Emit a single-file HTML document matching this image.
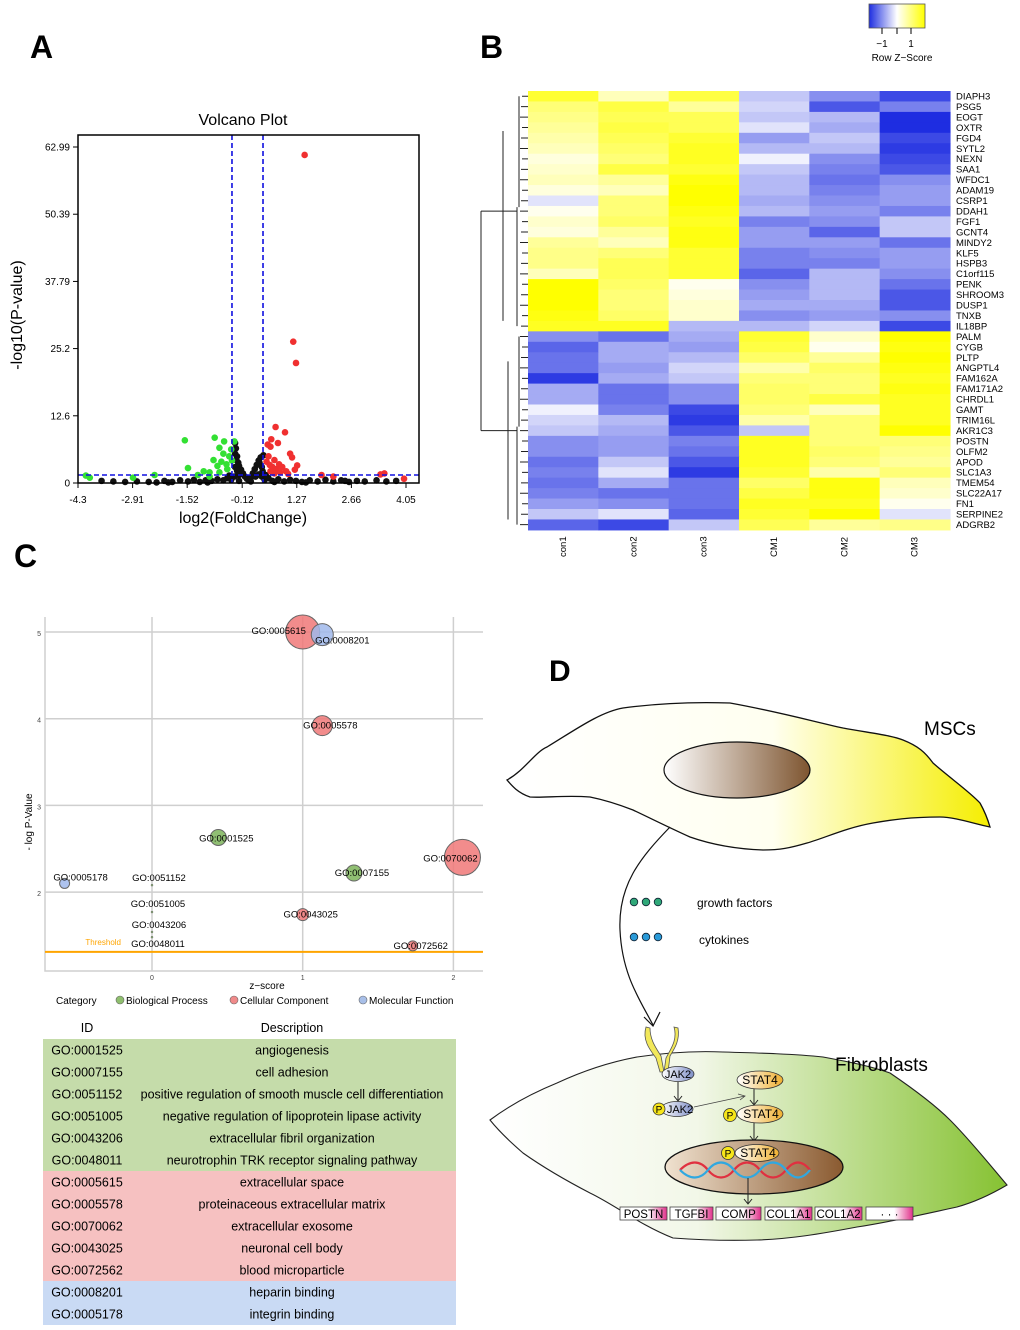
<!DOCTYPE html>
<html><head><meta charset="utf-8"><style>
html,body{margin:0;padding:0;background:#fff;}
svg{display:block;font-family:"Liberation Sans",Arial,sans-serif;}
</style></head><body>
<svg id="fig" width="1020" height="1330" viewBox="0 0 1020 1330" xmlns="http://www.w3.org/2000/svg">
<defs>
<linearGradient id="cbar" x1="0" x2="1"><stop offset="0" stop-color="#1e2ee0"/><stop offset="0.5" stop-color="#ffffff"/><stop offset="1" stop-color="#ffff00"/></linearGradient>
<linearGradient id="mscG" x1="0" x2="1"><stop offset="0" stop-color="#fff"/><stop offset="0.55" stop-color="#fffff0"/><stop offset="1" stop-color="#f5ee00"/></linearGradient>
<linearGradient id="nucG" x1="0" x2="1"><stop offset="0" stop-color="#fff"/><stop offset="1" stop-color="#7e5530"/></linearGradient>
<linearGradient id="fibG" x1="0" x2="1"><stop offset="0" stop-color="#fff"/><stop offset="0.4" stop-color="#f2f7e8"/><stop offset="1" stop-color="#86c232"/></linearGradient>
<linearGradient id="nuc2G" x1="0" x2="1"><stop offset="0" stop-color="#f0e2d0"/><stop offset="1" stop-color="#8a5a30"/></linearGradient>
<linearGradient id="jakG" x1="0" x2="1"><stop offset="0" stop-color="#fff"/><stop offset="1" stop-color="#8090c8"/></linearGradient>
<linearGradient id="statG" x1="0" x2="1"><stop offset="0" stop-color="#fff"/><stop offset="1" stop-color="#f0b030"/></linearGradient>
<linearGradient id="geneG" x1="0" x2="1"><stop offset="0" stop-color="#fff"/><stop offset="0.6" stop-color="#fff"/><stop offset="1" stop-color="#e0308a"/></linearGradient>
</defs>

<text x="30" y="58" font-size="32" font-weight="bold">A</text>
<text x="480" y="58" font-size="32" font-weight="bold">B</text>
<text x="14" y="567" font-size="32" font-weight="bold">C</text>
<text x="549" y="681" font-size="30" font-weight="bold">D</text>

<g id="volcano">
<text x="243" y="125" font-size="16" text-anchor="middle">Volcano Plot</text>
<text x="243" y="523" font-size="16" text-anchor="middle">log2(FoldChange)</text>
<text transform="translate(22,315) rotate(-90)" font-size="16" text-anchor="middle">-log10(P-value)</text>
<g id="vAxes"></g><g id="vPts"></g>
<rect x="78" y="135" width="341" height="348" fill="none" stroke="#000" stroke-width="1.5"/>
</g>

<g id="heatmap">
<rect x="869" y="4" width="56" height="24" fill="url(#cbar)" stroke="#555" stroke-width="0.8"/>
<path d="M882 28v6M897 28v6M911 28v6" stroke="#000"/>
<text x="882" y="47" font-size="10" text-anchor="middle">−1</text>
<text x="911" y="47" font-size="10" text-anchor="middle">1</text>
<text x="902" y="61" font-size="10" text-anchor="middle">Row Z−Score</text>
<g id="hCells"></g><g id="hDendro"></g><g id="hLabels"></g>
</g>

<g id="bubble">
<g id="bGrid"></g><g id="bPts"></g>
<text x="267" y="989" font-size="10" text-anchor="middle">z−score</text>
<text transform="translate(32,822) rotate(-90)" font-size="10" text-anchor="middle">- log P-Value</text>
<text x="56" y="1004" font-size="10">Category</text>
<circle cx="120" cy="1000" r="4" fill="#8fbf6e" stroke="#666" stroke-width="0.6"/>
<text x="126" y="1004" font-size="10">Biological Process</text>
<circle cx="234" cy="1000" r="4" fill="#f08a8a" stroke="#666" stroke-width="0.6"/>
<text x="240" y="1004" font-size="10">Cellular Component</text>
<circle cx="363" cy="1000" r="4" fill="#a8bfe8" stroke="#666" stroke-width="0.6"/>
<text x="369" y="1004" font-size="10">Molecular Function</text>
</g>

<g id="table">
<text x="87" y="1032" font-size="12.5" text-anchor="middle">ID</text>
<text x="292" y="1032" font-size="12.5" text-anchor="middle">Description</text>
<g id="tRows"></g>
</g>

<g id="diagram">
<path d="M507 780 C525 770 535 752 547 747 C575 730 600 712 623 708 C660 703 700 702 730 703 C780 712 815 722 843 728 C870 733 890 735 903 740 C918 746 925 752 933 763 C950 778 970 792 980 803 C985 812 988 820 990 827 C975 824 955 817 940 817 C910 817 890 820 873 823 C845 828 825 838 807 843 C790 848 780 850 763 850 C735 849 710 844 690 837 C670 828 650 818 633 810 C615 803 600 799 590 797 C565 795 545 798 530 797 C518 793 512 786 507 780 Z" fill="url(#mscG)" stroke="#111" stroke-width="1.3"/>
<ellipse cx="737" cy="770" rx="73" ry="28" fill="url(#nucG)" stroke="#111" stroke-width="1.2"/>
<text x="924" y="735" font-size="19">MSCs</text>
<path d="M670 827 C640 858 618 885 620 930 C622 975 640 1000 653 1025" fill="none" stroke="#111" stroke-width="1.2"/>
<path d="M644 1017 L653 1026 L660 1012" fill="none" stroke="#111" stroke-width="1.2"/>
<g>
<circle cx="634" cy="902" r="3.8" fill="#2fa878" stroke="#123" stroke-width="0.8"/><circle cx="646" cy="902" r="3.8" fill="#2fa878" stroke="#123" stroke-width="0.8"/><circle cx="658" cy="902" r="3.8" fill="#2fa878" stroke="#123" stroke-width="0.8"/></g>
<g>
<circle cx="634" cy="937" r="3.8" fill="#2a9ad8" stroke="#123" stroke-width="0.8"/><circle cx="646" cy="937" r="3.8" fill="#2a9ad8" stroke="#123" stroke-width="0.8"/><circle cx="658" cy="937" r="3.8" fill="#2a9ad8" stroke="#123" stroke-width="0.8"/></g>
<text x="697" y="907" font-size="12">growth factors</text>
<text x="699" y="944" font-size="12">cytokines</text>

<path d="M490 1120 C510 1105 535 1092 557 1083 C585 1070 610 1062 637 1057 C670 1052 700 1051 723 1052 C760 1053 795 1054 823 1057 C850 1062 870 1066 890 1073 C915 1090 935 1105 950 1120 C970 1140 990 1165 1007 1185 C990 1195 975 1202 957 1207 C920 1215 890 1222 857 1227 C820 1234 790 1239 757 1240 C725 1241 700 1240 673 1238 C640 1225 615 1205 590 1193 C565 1180 540 1165 523 1153 C508 1140 498 1130 490 1120 Z" fill="url(#fibG)" stroke="#222" stroke-width="1.1"/>
<text x="835" y="1071" font-size="19">Fibroblasts</text>
<path d="M646 1027 C642 1040 650 1050 656 1058 L660 1072 L664 1072 L661 1056 C656 1048 650 1040 650 1028 Z" fill="#f2e85a" stroke="#555" stroke-width="0.8"/>
<path d="M674 1027 C678 1040 670 1050 666 1058 L664 1072 L668 1072 L670 1056 C675 1048 680 1040 678 1028 Z" fill="#f2e85a" stroke="#555" stroke-width="0.8"/>
<ellipse cx="678" cy="1074" rx="16" ry="7.5" fill="url(#jakG)" stroke="#333" stroke-width="0.8"/>
<text x="678" y="1078" font-size="11" text-anchor="middle">JAK2</text>
<path d="M678 1082 V1100 M674 1096 L678 1101 L682 1096" fill="none" stroke="#222" stroke-width="1"/>
<ellipse cx="677" cy="1109" rx="16" ry="7.5" fill="url(#jakG)" stroke="#333" stroke-width="0.8"/>
<circle cx="659" cy="1109" r="6" fill="#f6e51a" stroke="#333" stroke-width="0.8"/>
<text x="659" y="1113" font-size="10" text-anchor="middle">P</text>
<text x="680" y="1113" font-size="11" text-anchor="middle">JAK2</text>
<path d="M694 1107 L745 1096 M738 1094 L745 1096 L740 1100" fill="none" stroke="#444" stroke-width="0.8"/>
<ellipse cx="760" cy="1080" rx="23" ry="9" fill="url(#statG)" stroke="#333" stroke-width="0.8"/>
<text x="760" y="1084" font-size="12" text-anchor="middle">STAT4</text>
<path d="M754 1089 V1104 M750 1100 L754 1105 L758 1100" fill="none" stroke="#222" stroke-width="1"/>
<ellipse cx="760" cy="1114" rx="23" ry="9" fill="url(#statG)" stroke="#333" stroke-width="0.8"/>
<circle cx="730" cy="1115" r="6.5" fill="#f6e51a" stroke="#333" stroke-width="0.8"/>
<text x="730" y="1119" font-size="10" text-anchor="middle">P</text>
<text x="761" y="1118" font-size="12" text-anchor="middle">STAT4</text>
<path d="M754 1123 V1140 M750 1136 L754 1141 L758 1136" fill="none" stroke="#222" stroke-width="1"/>
<ellipse cx="754" cy="1167" rx="89" ry="27" fill="url(#nuc2G)" stroke="#111" stroke-width="1.3"/>
<ellipse cx="757" cy="1153" rx="22" ry="8.5" fill="url(#statG)" stroke="#333" stroke-width="0.8"/>
<circle cx="728" cy="1153" r="6.5" fill="#f6e51a" stroke="#333" stroke-width="0.8"/>
<text x="728" y="1157" font-size="10" text-anchor="middle">P</text>
<text x="758" y="1157" font-size="12" text-anchor="middle">STAT4</text>
<path d="M680 1170 C690 1160 700 1160 708 1170 C716 1180 726 1180 734 1170 C742 1160 752 1160 760 1170 C768 1180 778 1180 786 1170 C794 1160 802 1160 810 1170" fill="none" stroke="#e03040" stroke-width="2.2"/>
<path d="M680 1170 C690 1180 700 1180 708 1170 C716 1160 726 1160 734 1170 C742 1180 752 1180 760 1170 C768 1160 778 1160 786 1170 C794 1180 802 1180 810 1170" fill="none" stroke="#30a8e0" stroke-width="2.2"/>
<path d="M748 1178 V1203 M744 1199 L748 1204 L752 1199" fill="none" stroke="#222" stroke-width="1"/>
<g id="genes"></g>
</g>
</svg>
<script>
const NS="http://www.w3.org/2000/svg";
function mk(tag,attrs,parent,txt){const e=document.createElementNS(NS,tag);for(const k in attrs)e.setAttribute(k,attrs[k]);if(txt!==undefined)e.textContent=txt;parent.appendChild(e);return e;}

// ===== Volcano data =====
const vTicksX=[-4.3,-2.91,-1.52,-0.12,1.27,2.66,4.05];
const vTicksY=[0,12.6,25.2,37.79,50.39,62.99];
const vRed=[[1.47,61.5],[1.18,26.5],[1.25,22.5],[0.73,10.5],[0.97,9.5],[0.62,8.2],[0.79,7.5],[0.53,7.2],[0.6,6.8],[1.1,5.5],[1.15,4.8],[0.55,5],[0.7,4.3],[0.82,3.5],[1.28,3.3],[0.9,3],[1.22,2.5],[0.65,3],[0.75,2.6],[1.0,2.2],[0.6,2.2],[0.85,2],[1.9,1.5],[2.2,1.2],[3.5,1.8],[3.4,1.6],[4.0,0.8],[0.7,1.8],[1.05,1.7],[0.5,4.0],[0.58,3.4]];
const vGreen=[[-1.58,8],[-0.82,8.5],[-0.58,7.8],[-0.32,7.8],[-0.4,6.3],[-0.7,6.6],[-0.6,5.5],[-0.45,5.0],[-0.85,4.3],[-0.65,4.0],[-0.52,3.5],[-0.38,4.2],[-1.5,2.8],[-1.1,2.2],[-0.95,2.0],[-0.7,2.0],[-1.25,1.5],[-2.35,1.5],[-4.1,1.4],[-4.0,1.0],[-2.9,1.0],[-0.95,1.2],[-0.5,2.6],[-0.75,3.2]];
const vBlack=[[-0.3,7.5],[-0.28,6.5],[-0.3,5.5],[-0.25,5],[-0.27,4.3],[-0.22,3.8],[-0.2,3.2],[-0.15,2.5],[-0.1,1.8],[-0.05,1.2],[-0.3,3],[-0.25,2.3],[-0.2,1.5],[-0.32,1.2],[0.0,0.8],[0.05,0.5],[0.1,1.0],[0.15,1.8],[0.2,2.6],[0.25,3.4],[0.3,4.2],[0.35,4.8],[0.32,3.8],[0.38,3.0],[0.4,2.2],[0.3,1.6],[0.38,1.2],[0.42,5.2],[0.22,1.2],[-3.7,0.4],[-3.4,0.3],[-3.1,0.2],[-2.8,0.3],[-2.5,0.2],[-2.3,0.1],[-2.1,0.4],[-1.9,0.2],[-1.7,0.5],[-1.5,0.3],[-1.35,0.6],[-1.2,0.2],[-1.05,0.5],[-0.9,0.4],[-0.75,0.7],[-0.6,0.5],[-0.5,0.9],[-0.4,0.6],[-0.2,0.4],[0.1,0.3],[0.45,0.6],[0.55,0.9],[0.65,0.4],[0.8,0.7],[0.95,0.3],[1.1,0.6],[1.25,0.4],[1.4,0.2],[1.6,0.5],[1.8,0.3],[2.0,0.6],[2.2,0.3],[2.4,0.5],[2.6,0.2],[2.8,0.4],[3.0,0.3],[3.3,0.5],[3.55,0.3],[3.8,0.4],[-2.0,0.1],[-1.0,0.1],[0.7,0.2],[1.5,0.1],[2.5,0.4],[-0.45,1.4],[0.48,1.5]];
const vThreshX=[-0.38,0.41];
const vThreshY=[1.5];
const vx=v=>78+(v+4.3)*39.28;
const vy=v=>483-v*5.334;
(function(){
 const ax=document.getElementById('vAxes');
 vTicksX.forEach(t=>{const l=mk('line',{x1:vx(t),x2:vx(t),y1:483,y2:488,stroke:'#000'},ax);
  
  const tx=mk('text',{x:vx(t),y:503,'font-size':10,'text-anchor':'middle'},ax,String(t));
  });
 vTicksY.forEach(t=>{const l=mk('line',{x1:73,x2:78,y1:vy(t),y2:vy(t),stroke:'#000'},ax);
  
  const tx=mk('text',{x:70,y:vy(t)+3.5,'font-size':10,'text-anchor':'end'},ax,String(t));
  });
 const p=document.getElementById('vPts');
 vBlack.forEach(d=>{const c=mk('circle',{cx:vx(d[0]),cy:vy(d[1]),r:3.3,fill:'#111'},p);
  });
 vGreen.forEach(d=>{const c=mk('circle',{cx:vx(d[0]),cy:vy(d[1]),r:3.3,fill:'#33e033'},p);
  });
 vRed.forEach(d=>{const c=mk('circle',{cx:vx(d[0]),cy:vy(d[1]),r:3.3,fill:'#f03030'},p);
  });
 vThreshX.forEach(t=>{const l=mk('line',{x1:vx(t),x2:vx(t),y1:135,y2:483,stroke:'#1010e0','stroke-width':1.6,'stroke-dasharray':'5,3'},p);
  });
 vThreshY.forEach(t=>{const l=mk('line',{x1:78,x2:419,y1:vy(t),y2:vy(t),stroke:'#1010e0','stroke-width':1.6,'stroke-dasharray':'5,3'},p);
  });
})();

// ===== Heatmap data =====
const hSamples=["con1","con2","con3","CM1","CM2","CM3"];
const hGenes=["DIAPH3","PSG5","EOGT","OXTR","FGD4","SYTL2","NEXN","SAA1","WFDC1","ADAM19","CSRP1","DDAH1","FGF1","GCNT4","MINDY2","KLF5","HSPB3","C1orf115","PENK","SHROOM3","DUSP1","TNXB","IL18BP","PALM","CYGB","PLTP","ANGPTL4","FAM162A","FAM171A2","CHRDL1","GAMT","TRIM16L","AKR1C3","POSTN","OLFM2","APOD","SLC1A3","TMEM54","SLC22A17","FN1","SERPINE2","ADGRB2"];
const hValues=[
[1.2,0.4,1.1,-0.4,-0.8,-1.3],[0.8,1.1,0.6,-0.3,-1.2,-0.9],[0.7,1.0,1.0,-0.4,-0.5,-1.5],[0.6,1.1,1.0,-0.2,-0.6,-1.5],
[0.5,1.0,1.2,-0.7,-0.4,-1.3],[0.4,0.9,1.3,-0.5,-0.5,-1.4],[0.2,0.8,1.3,-0.1,-0.8,-1.3],[0.3,1.1,1.2,-0.4,-0.9,-1.2],
[0.4,0.6,1.4,-0.5,-1.0,-0.8],[0.2,0.4,1.5,-0.5,-0.9,-0.7],[-0.2,0.8,1.5,-0.6,-0.8,-0.7],[0.1,0.8,1.4,-0.5,-0.7,-0.9],
[0.3,0.9,1.3,-0.9,-0.8,-0.4],[0.2,0.6,1.4,-0.7,-1.1,-0.4],[0.6,0.4,1.4,-0.7,-0.7,-1.0],[0.7,0.8,1.2,-0.9,-0.8,-0.7],
[0.7,1.0,1.2,-0.9,-0.9,-0.7],[0.4,1.0,1.2,-1.1,-0.5,-0.8],[1.5,0.9,0.1,-0.8,-0.5,-1.0],[1.5,0.8,0.2,-0.7,-0.5,-1.2],
[1.5,0.8,0.3,-0.6,-0.6,-1.2],[1.4,0.9,0.3,-0.8,-0.7,-0.8],[1.3,1.3,-0.5,-0.5,-0.3,-1.3],
[-0.8,-1.0,-0.6,1.2,0.3,1.5],[-1.1,-0.6,-0.7,1.1,0.1,1.4],[-1.0,-0.6,-0.5,0.9,0.6,1.5],[-1.0,-0.7,-0.3,0.5,0.9,1.4],
[-1.4,-0.6,-0.4,0.8,0.8,1.3],[-0.6,-1.0,-0.8,0.9,0.8,1.4],[-0.6,-1.0,-0.8,0.9,1.1,1.3],[-0.1,-0.9,-1.3,0.8,0.4,1.3],
[-0.3,-0.5,-1.4,0.5,0.8,1.3],[-0.4,-0.6,-1.2,-0.4,0.8,1.6],[-0.8,-0.7,-0.9,1.3,0.8,0.8],[-0.8,-0.7,-1.0,1.3,0.9,0.7],
[-1.0,-0.4,-1.2,1.3,0.8,0.6],[-0.9,-0.2,-1.4,1.2,0.5,0.8],[-1.0,-0.6,-1.0,0.9,1.4,0.4],[-0.9,-1.0,-1.0,1.1,1.4,0.3],
[-0.7,-0.8,-1.0,1.3,1.3,0.1],[-0.4,-0.2,-1.1,1.2,1.5,-0.2],[-1.1,-1.3,-0.4,1.0,0.6,0.7]];
const hClusterSizes=[23,19];
const hx=i=>528+i*70.33;
const hy=i=>91+i*10.45;
function zcol(v){v=Math.max(-1.5,Math.min(1.5,v))/1.5;
 if(v<0){const t=-v;return `rgb(${Math.round(255-t*225)},${Math.round(255-t*210)},${Math.round(255-t*30)})`;}
 return `rgb(255,255,${Math.round(255-v*255)})`;}
(function(){
 const g=document.getElementById('hCells');
 hValues.forEach((row,r)=>row.forEach((v,c)=>{const e=mk('rect',{x:hx(c),y:hy(r),width:70.9,height:11,fill:zcol(v)},g);
  }));
 const L=document.getElementById('hLabels');
 hGenes.forEach((n,r)=>{const t=mk('text',{x:956,y:hy(r)+8.5,'font-size':9.5},L,n);
  });
 hSamples.forEach((n,c)=>{const t=mk('text',{transform:`translate(${hx(c)+38},557) rotate(-90)`,'font-size':9.5},L,n);
  });
 const D=document.getElementById('hDendro');let d='';let start=0;const mids=[];
 hClusterSizes.forEach(sz=>{const ys=[];for(let r=start;r<start+sz;r++){const y=hy(r)+5.2;ys.push(y);d+=`M528 ${y}H${522-(r%3)}`;}
  const a=ys[0],b=ys[ys.length-1];
  d+=`M${519} ${a}V${(a+b)/2-4}M517 ${(a+b)/2-4}V${b}`;
  mids.push((a+b)/2);start+=sz;});
 d+=`M503 ${hy(0)+40}V${hy(22)}M503 ${mids[0]}H517`;
 d+=`M508 ${hy(23)+30}V${hy(41)}M508 ${mids[1]}H517`;
 d+=`M481 ${mids[0]}V${mids[1]}M481 ${mids[0]}H503M481 ${mids[1]}H508`;
 const p=mk('path',{d:d,fill:'none',stroke:'#222','stroke-width':1},D);
 
})();

// ===== Bubble chart data =====
const bIds=["GO:0005615","GO:0008201","GO:0005578","GO:0001525","GO:0070062","GO:0007155","GO:0005178","GO:0051152","GO:0051005","GO:0043206","GO:0048011","GO:0043025","GO:0072562"];
const bZ=[1.0,1.13,1.13,0.44,2.06,1.34,-0.58,0,0,0,0,1.0,1.73];
const bLogP=[5.0,4.97,3.92,2.63,2.4,2.22,2.1,2.08,1.77,1.54,1.48,1.74,1.38];
const bSize=[17,11,10,8,18,8,5,1,1,1,1,6,5];
const bCat=["CC","MF","CC","BP","CC","BP","MF","BP","BP","BP","BP","CC","CC"];
const bTicksX=[0,1,2];
const bTicksY=[2,3,4,5];
const bThreshold=[1.31];
const bLabelDx=[-24,20,8,8,-12,8,16,7,6,7,6,8,8];
const bLabelDy=[2,9,3,4,4,3,-3,-4,-5,-4,10,3,3];
const catFill={BP:'rgba(125,180,90,0.85)',CC:'rgba(240,120,120,0.85)',MF:'rgba(160,185,235,0.85)'};
const bx=v=>152+v*150.7;
const by=v=>632+(5-v)*86.7;
(function(){
 const G=document.getElementById('bGrid');
 bTicksX.forEach(t=>{const l=mk('line',{x1:bx(t),x2:bx(t),y1:617,y2:971,stroke:'#cfcfcf','stroke-width':1.5},G);
  
  const tx=mk('text',{x:bx(t),y:980,'font-size':7,'text-anchor':'middle',fill:'#444'},G,String(t));
  });
 bTicksY.forEach(t=>{const l=mk('line',{x1:45,x2:483,y1:by(t),y2:by(t),stroke:'#cfcfcf','stroke-width':1.5},G);
  
  const tx=mk('text',{x:41,y:by(t)+4,'font-size':7,'text-anchor':'end',fill:'#444'},G,String(t));
  });
 const ax=mk('path',{d:'M45 617V971H483',fill:'none',stroke:'#cfcfcf','stroke-width':1.5},G);
 
 bThreshold.forEach(t=>{const l=mk('line',{x1:45,x2:483,y1:by(t),y2:by(t),stroke:'#ffa500','stroke-width':2},G);
  
  const tx=mk('text',{x:121,y:by(t)-7,'font-size':8,'text-anchor':'end',fill:'#ffa500'},G,'Threshold');
  });
 const P=document.getElementById('bPts');
 bIds.forEach((id,i)=>{const c=mk('circle',{cx:bx(bZ[i]),cy:by(bLogP[i]),r:bSize[i],fill:catFill[bCat[i]],stroke:'#666','stroke-width':bSize[i]>1?1:0.5},P);
  });
 bIds.forEach((id,i)=>{const t=mk('text',{x:bx(bZ[i])+bLabelDx[i],y:by(bLogP[i])+bLabelDy[i],'font-size':9.5,'text-anchor':'middle'},P,id);
  });
})();

// ===== Table =====
const tIds=["GO:0001525","GO:0007155","GO:0051152","GO:0051005","GO:0043206","GO:0048011","GO:0005615","GO:0005578","GO:0070062","GO:0043025","GO:0072562","GO:0008201","GO:0005178"];
const tDesc=["angiogenesis","cell adhesion","positive regulation of smooth muscle cell differentiation","negative regulation of lipoprotein lipase activity","extracellular fibril organization","neurotrophin TRK receptor signaling pathway","extracellular space","proteinaceous extracellular matrix","extracellular exosome","neuronal cell body","blood microparticle","heparin binding","integrin binding"];
const tCat=["BP","BP","BP","BP","BP","BP","CC","CC","CC","CC","CC","MF","MF"];
const tFill={BP:'#c5dcaa',CC:'#f6c1c1',MF:'#c9daf4'};
(function(){
 const T=document.getElementById('tRows');
 tIds.forEach((id,i)=>{const y=1039+i*22;
  const r=mk('rect',{x:43,y:y,width:413,height:22,fill:tFill[tCat[i]]},T);
  
  const a=mk('text',{x:87,y:y+15.5,'font-size':12.5,'text-anchor':'middle'},T,id);
  
  const b=mk('text',{x:292,y:y+15.5,'font-size':12.5,'text-anchor':'middle'},T,tDesc[i]);
  });
})();

// ===== Genes in diagram =====
const gNames=["POSTN","TGFBI","COMP","COL1A1","COL1A2","· · ·"];
const gX=[620,670,716,765,815,866];
const gW=[47,43,45,47,47,47];
(function(){
 const G=document.getElementById('genes');
 gNames.forEach((n,i)=>{const r=mk('rect',{x:gX[i],y:1207,width:gW[i],height:13,fill:'url(#geneG)',stroke:'#444','stroke-width':0.8},G);
  
  const t=mk('text',{x:gX[i]+gW[i]/2,y:1218,'font-size':11.5,'text-anchor':'middle'},G,n);
  });
})();
</script>
</body></html>
